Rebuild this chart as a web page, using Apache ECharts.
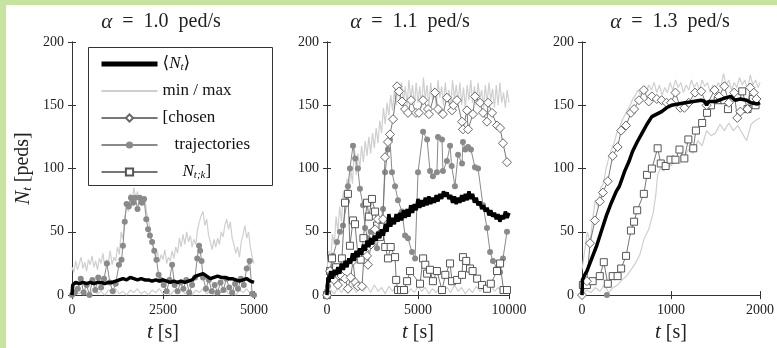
<!DOCTYPE html>
<html><head><meta charset="utf-8">
<script src="https://cdn.jsdelivr.net/npm/echarts@6/dist/echarts.min.js"></script>
<style>html,body{margin:0;padding:0;background:#fff}#c{width:777px;height:348px}</style>
</head><body><div id="c"></div><script>
// ---------- DATA ----------
const titles = ['1.0', '1.1', '1.3'];
const xMax = [5000, 10000, 2000];
const xStep = [2500, 5000, 1000];

// Panel 1 (alpha = 1.0)
const p1Mean = [[0,0],[20,8],[100,10],[200,9],[300,10],[400,9],[500,10],[600,9],[700,10],[800,10],[900,9],[1000,10],[1100,10],[1200,11],[1300,12],[1400,13],[1500,12],[1600,14],[1700,13],[1800,12],[1900,13],[2000,12],[2100,12],[2200,11],[2300,12],[2400,11],[2500,12],[2600,11],[2700,10],[2800,11],[2900,10],[3000,11],[3100,10],[3200,11],[3300,12],[3400,15],[3500,16],[3600,17],[3700,15],[3800,13],[3900,14],[4000,15],[4100,14],[4200,14],[4300,13],[4400,13],[4500,12],[4600,11],[4700,12],[4800,13],[4900,11],[5000,10]];
const p1Max = [[0,22],[50,18],[100,27],[150,20],[200,25],[250,30],[300,21],[350,26],[400,19],[450,28],[500,24],[550,31],[600,22],[650,27],[700,20],[750,29],[800,25],[850,33],[900,23],[950,28],[1000,26],[1050,35],[1100,24],[1150,30],[1200,27],[1250,38],[1300,32],[1350,50],[1400,44],[1450,62],[1500,70],[1550,66],[1600,80],[1650,74],[1700,85],[1750,76],[1800,82],[1850,73],[1900,79],[1950,75],[2000,78],[2050,65],[2100,60],[2150,50],[2200,42],[2250,35],[2300,30],[2350,34],[2400,26],[2450,32],[2500,28],[2550,36],[2600,25],[2650,30],[2700,27],[2750,35],[2800,29],[2850,38],[2900,33],[2950,45],[3000,38],[3050,48],[3100,40],[3150,50],[3200,42],[3250,47],[3300,38],[3350,44],[3400,40],[3450,52],[3500,58],[3550,63],[3600,66],[3650,55],[3700,60],[3750,48],[3800,42],[3850,36],[3900,44],[3950,38],[4000,45],[4050,40],[4100,50],[4150,46],[4200,55],[4250,60],[4300,52],[4350,58],[4400,45],[4450,40],[4500,33],[4550,38],[4600,30],[4650,42],[4700,48],[4750,55],[4800,45],[4850,50],[4900,38],[4950,30],[5000,25]];
const p1Min = [[0,0],[100,3],[200,1],[300,4],[400,0],[500,2],[600,5],[700,1],[800,3],[900,0],[1000,4],[1100,2],[1200,5],[1300,1],[1400,3],[1500,0],[1600,4],[1700,2],[1800,5],[1900,1],[2000,3],[2100,0],[2200,4],[2300,2],[2400,5],[2500,1],[2600,3],[2700,0],[2800,4],[2900,2],[3000,5],[3100,1],[3200,3],[3300,0],[3400,4],[3500,2],[3600,5],[3700,1],[3800,3],[3900,0],[4000,4],[4100,2],[4200,5],[4300,1],[4400,3],[4500,0],[4600,4],[4700,2],[4800,5],[4900,1],[5000,3]];
const p1Dot = [[0,0],[80,2],[160,5],[240,13],[320,2],[400,8],[480,0],[560,12],[640,4],[720,14],[800,6],[880,13],[960,25],[1040,10],[1120,3],[1200,9],[1290,24],[1360,28],[1400,39],[1450,58],[1500,72],[1560,70],[1620,77],[1680,73],[1740,77],[1800,68],[1860,77],[1920,73],[1980,76],[2040,60],[2090,52],[2140,47],[2200,42],[2260,35],[2320,28],[2380,16],[2440,12],[2520,8],[2600,3],[2680,12],[2750,24],[2820,8],[2900,3],[2980,10],[3060,5],[3140,12],[3220,2],[3300,8],[3380,14],[3440,29],[3490,39],[3520,35],[3560,27],[3600,14],[3680,5],[3760,12],[3840,3],[3920,8],[4000,2],[4080,10],[4160,4],[4240,13],[4320,6],[4400,2],[4480,9],[4560,5],[4640,13],[4720,8],[4800,21],[4880,27],[4950,1],[5000,0]];

// Panel 2 (alpha = 1.1)
const p2Mean = [[0,0],[50,14],[100,10],[200,19],[300,13],[400,20],[500,16],[600,22],[700,17],[800,25],[900,20],[1000,27],[1100,22],[1200,29],[1300,25],[1400,33],[1500,27],[1600,35],[1700,30],[1800,37],[1900,32],[2000,40],[2100,35],[2200,43],[2300,38],[2400,45],[2500,40],[2600,47],[2700,43],[2800,50],[2900,45],[3000,52],[3100,47],[3200,56],[3300,50],[3400,64],[3500,54],[3600,61],[3700,56],[3800,64],[3900,58],[4000,65],[4100,59],[4200,67],[4300,61],[4400,68],[4500,62],[4600,71],[4700,65],[4800,72],[4900,67],[5000,76],[5100,69],[5200,75],[5300,70],[5400,77],[5500,71],[5600,78],[5700,72],[5800,77],[5900,73],[6000,79],[6100,74],[6200,80],[6300,76],[6400,82],[6500,78],[6600,81],[6700,76],[6800,79],[6900,73],[7000,78],[7100,72],[7200,77],[7300,73],[7400,79],[7500,74],[7600,80],[7700,75],[7800,82],[7900,76],[8000,80],[8100,73],[8200,77],[8300,71],[8400,74],[8500,68],[8600,71],[8700,66],[8800,69],[8900,63],[9000,67],[9100,62],[9200,65],[9300,60],[9400,64],[9500,58],[9600,63],[9700,60],[9800,66],[9900,61],[10000,65]];
const p2Max = [[0,20],[100,35],[200,28],[300,48],[400,40],[500,62],[600,50],[700,70],[800,58],[900,82],[1000,70],[1100,92],[1200,80],[1300,100],[1400,88],[1500,118],[1600,95],[1700,112],[1800,100],[1900,118],[2000,105],[2100,122],[2200,110],[2300,125],[2400,112],[2500,128],[2600,116],[2700,132],[2800,120],[2900,138],[3000,128],[3100,148],[3200,135],[3300,152],[3400,142],[3500,158],[3600,146],[3700,162],[3800,150],[3900,166],[4000,154],[4100,168],[4200,152],[4300,165],[4400,150],[4500,170],[4600,155],[4700,166],[4800,150],[4900,168],[5000,152],[5100,165],[5200,148],[5300,172],[5400,155],[5500,166],[5600,150],[5700,168],[5800,154],[5900,164],[6000,148],[6100,170],[6200,156],[6300,165],[6400,150],[6500,168],[6600,153],[6700,162],[6800,148],[6900,170],[7000,155],[7100,166],[7200,152],[7300,168],[7400,150],[7500,164],[7600,148],[7700,166],[7800,154],[7900,170],[8000,152],[8100,165],[8200,150],[8300,168],[8400,155],[8500,162],[8600,148],[8700,166],[8800,152],[8900,168],[9000,154],[9100,163],[9200,148],[9300,166],[9400,150],[9500,168],[9600,152],[9700,160],[9800,148],[9900,162],[10000,152]];
const p2Min = [[0,0],[200,4],[400,1],[600,6],[800,2],[1000,7],[1200,3],[1400,8],[1600,2],[1800,6],[2000,3],[2200,7],[2400,2],[2600,8],[2800,3],[3000,6],[3200,1],[3400,7],[3600,3],[3800,8],[4000,2],[4200,6],[4400,1],[4600,5],[4800,2],[5000,7],[5200,3],[5400,6],[5600,1],[5800,5],[6000,2],[6200,7],[6400,3],[6600,6],[6800,2],[7000,8],[7200,3],[7400,6],[7600,1],[7800,5],[8000,2],[8200,7],[8400,3],[8600,6],[8800,2],[9000,8],[9200,3],[9400,6],[9600,2],[9800,7],[10000,3]];
const p2Dia = [[0,0],[165,19],[380,12],[600,8],[800,15],[990,13],[1150,5],[1300,14],[1430,27],[1560,10],[1700,7],[1920,7],[2050,35],[2200,31],[2250,24],[2420,40],[2640,52],[2800,60],[3080,60],[3190,109],[3350,121],[3460,127],[3630,139],[3850,165],[3960,161],[4120,153],[4290,147],[4450,144],[4620,154],[4890,144],[5050,144],[5280,154],[5550,147],[5600,143],[5930,160],[6100,147],[6370,143],[6590,156],[6870,146],[6950,150],[7140,154],[7420,137],[7470,131],[7690,146],[7750,131],[8020,143],[8130,157],[8410,152],[8570,144],[8790,137],[8850,152],[9070,144],[9340,134],[9510,132],[9670,120],[9890,105]];
const p2Dot = [[0,3],[55,7],[200,18],[330,31],[550,42],[710,50],[880,55],[1100,74],[1150,86],[1260,100],[1430,118],[1550,108],[1700,100],[1810,84],[1980,71],[2090,53],[2250,45],[2400,50],[2640,45],[2750,37],[2910,55],[3080,68],[3190,97],[3350,115],[3460,123],[3570,97],[3740,86],[3900,75],[4120,66],[4290,47],[4450,45],[4670,34],[4840,29],[5000,97],[5280,129],[5500,123],[5660,98],[5820,94],[6040,97],[6100,125],[6320,123],[6370,98],[6590,106],[6760,118],[6850,102],[7030,86],[7200,111],[7420,104],[7470,121],[7600,115],[7750,117],[7910,115],[8130,101],[8300,100],[8570,71],[8790,53],[8960,34],[9120,27],[9340,21],[9510,18],[9670,29],[9890,50]];
const p2Sq = [[0,0],[165,19],[275,29],[500,22],[660,15],[820,29],[990,73],[1150,80],[1260,39],[1430,59],[1540,56],[1700,31],[1850,28],[2000,45],[2200,73],[2300,62],[2470,76],[2640,66],[2750,55],[2910,46],[3050,54],[3200,38],[3350,29],[3500,38],[3740,30],[3800,12],[3900,4],[4070,4],[4230,4],[4400,11],[4560,19],[5110,9],[5280,29],[5400,24],[5500,17],[5660,20],[5820,11],[6040,19],[6320,4],[6500,16],[6760,25],[6870,11],[7150,12],[7420,16],[7470,30],[7650,27],[7860,21],[8000,19],[8250,13],[8520,8],[8790,5],[9000,9],[9340,19],[9510,25],[9700,4],[9890,4]];

// Panel 3 (alpha = 1.3)
const p3Mean = [[0,0],[5,12],[30,16],[55,19],[110,29],[165,39],[220,51],[275,63],[330,73],[385,82],[420,86],[480,98],[530,106],[565,113],[620,121],[675,128],[730,135],[785,141],[840,143],[895,145],[950,148],[1005,150],[1080,151],[1160,152],[1250,153],[1340,154],[1380,153],[1400,150],[1420,153],[1500,153],[1580,155],[1670,157],[1720,154],[1780,155],[1850,154],[1900,152],[1970,151],[2000,152]];
const p3Max = [[0,20],[30,35],[60,50],[90,42],[120,60],[150,75],[180,70],[210,85],[240,88],[270,100],[300,108],[330,115],[360,120],[390,128],[420,132],[450,138],[480,142],[510,146],[540,150],[570,155],[600,158],[630,162],[660,158],[690,165],[720,160],[750,166],[780,162],[810,168],[840,160],[870,166],[900,158],[930,164],[960,160],[990,168],[1020,162],[1050,170],[1080,164],[1110,168],[1140,160],[1170,166],[1200,162],[1230,170],[1260,164],[1290,168],[1320,162],[1350,170],[1380,165],[1410,168],[1440,160],[1470,166],[1500,162],[1530,168],[1560,164],[1590,175],[1620,166],[1650,170],[1680,162],[1710,168],[1740,164],[1770,172],[1800,166],[1830,170],[1860,162],[1890,174],[1920,166],[1950,170],[1980,164],[2000,168]];
const p3Min = [[0,0],[50,4],[100,2],[150,6],[200,3],[250,8],[300,2],[350,6],[400,8],[450,12],[500,15],[550,20],[600,25],[650,32],[700,45],[750,52],[800,65],[830,80],[850,95],[880,100],[920,98],[960,105],[1000,102],[1050,108],[1100,104],[1150,110],[1200,115],[1250,112],[1300,122],[1350,118],[1400,130],[1450,126],[1500,128],[1550,135],[1600,130],[1650,136],[1700,130],[1750,134],[1800,128],[1850,122],[1900,135],[1950,138],[2000,140]];
const p3Dia = [[0,0],[55,11],[90,41],[145,59],[200,74],[235,81],[290,90],[345,110],[400,117],[440,130],[495,134],[550,144],[585,147],[640,154],[695,162],[750,153],[785,157],[840,155],[895,154],[950,152],[1000,152],[1050,160],[1105,148],[1150,148],[1200,152],[1270,160],[1340,161],[1400,150],[1490,162],[1540,157],[1600,165],[1650,152],[1710,160],[1745,140],[1780,145],[1860,147],[1890,164],[1930,160],[1960,155]];
const p3Sq = [[10,8],[55,8],[120,11],[200,15],[245,26],[290,9],[345,15],[400,15],[440,21],[495,31],[550,51],[585,58],[620,67],[695,80],[730,95],[785,100],[850,116],[885,104],[940,102],[995,107],[1050,107],[1095,115],[1150,108],[1195,123],[1250,116],[1280,130],[1350,136],[1405,144],[1450,150],[1525,154],[1600,154],[1640,147],[1745,158],[1800,161],[1860,147],[1920,155],[1950,150]];
const p3Dot = [[280,0]];

// ---------- CHART ----------
const FONT = '"Liberation Serif","DejaVu Serif",serif';
const GREY_LIGHT = '#cfcfcf';
const LINE_C = '#777777';
const grids = [
  {left: 72, top: 42, width: 182, height: 255},
  {left: 327, top: 42, width: 182, height: 255},
  {left: 582, top: 42, width: 181, height: 255}
];
const titleX = [161, 410, 670];

const xAxes = [], yAxes = [], series = [];
const axLine = {show: true, lineStyle: {color: '#333', width: 1}};
const tick = {inside: true, length: 4, lineStyle: {color: '#333'}};
const lab = {fontFamily: FONT, fontSize: 14, color: '#222', margin: 8, formatter: v => String(v)};
for (let i = 0; i < 3; i++) {
  const base = {gridIndex: i, type: 'value', min: 0, max: xMax[i], interval: xStep[i], splitLine: {show: false}, axisLine: axLine};
  xAxes.push(Object.assign({}, base, {
    position: 'bottom', axisTick: tick, axisLabel: lab,
    name: '{i|t} [s]', nameLocation: 'middle', nameGap: 26,
    nameTextStyle: {fontFamily: FONT, fontSize: 20, color: '#222', rich: {i: {fontFamily: FONT, fontStyle: 'italic', fontSize: 21, color: '#222'}}}
  }));
  xAxes.push(Object.assign({}, base, {position: 'top', axisTick: tick, axisLabel: {show: false}}));
  const ybase = {gridIndex: i, type: 'value', min: 0, max: 200, interval: 50, splitLine: {show: false}, axisLine: axLine};
  const yl = Object.assign({}, ybase, {position: 'left', axisTick: tick, axisLabel: lab});
  if (i === 0) {
    yl.name = '{i|N}{s|t} [peds]';
    yl.nameLocation = 'middle';
    yl.nameGap = 38;
    yl.nameTextStyle = {fontFamily: FONT, fontSize: 20, color: '#222', lineHeight: 22,
      rich: {i: {fontFamily: FONT, fontStyle: 'italic', fontSize: 21, color: '#222', lineHeight: 22},
             s: {fontFamily: FONT, fontStyle: 'italic', fontSize: 13, color: '#222', lineHeight: 22, verticalAlign: 'bottom'}}};
  }
  yAxes.push(yl);
  yAxes.push(Object.assign({}, ybase, {position: 'right', axisTick: tick, axisLabel: {show: false}}));
}

const panels = [
  {mean: p1Mean, max: p1Max, min: p1Min, dia: [], dot: p1Dot, sq: []},
  {mean: p2Mean, max: p2Max, min: p2Min, dia: p2Dia, dot: p2Dot, sq: p2Sq},
  {mean: p3Mean, max: p3Max, min: p3Min, dia: p3Dia, dot: p3Dot, sq: p3Sq}
];
panels.forEach((p, i) => {
  const ax = {xAxisIndex: 2 * i, yAxisIndex: 2 * i};
  const mm = {type: 'line', name: 'minmax', symbol: 'none', lineStyle: {color: GREY_LIGHT, width: 1.2}, itemStyle: {color: GREY_LIGHT}, z: 1};
  series.push(Object.assign({}, ax, mm, {data: p.max}));
  series.push(Object.assign({}, ax, mm, {data: p.min}));
  series.push(Object.assign({}, ax, {type: 'line', name: 'traj', data: p.dot, symbol: 'circle', symbolSize: 6,
    lineStyle: {color: '#8a8a8a', width: 1}, itemStyle: {color: '#8a8a8a', borderWidth: 0}, z: 2}));
  series.push(Object.assign({}, ax, {type: 'line', name: 'Ntk', data: p.sq, symbol: 'rect', symbolSize: 7,
    lineStyle: {color: LINE_C, width: 1}, itemStyle: {color: '#fff', borderColor: '#555', borderWidth: 1}, z: 3}));
  series.push(Object.assign({}, ax, {type: 'line', name: 'chosen', data: p.dia, symbol: 'diamond', symbolSize: 9,
    lineStyle: {color: LINE_C, width: 1}, itemStyle: {color: '#fff', borderColor: '#666', borderWidth: 1}, z: 3}));
  series.push(Object.assign({}, ax, {type: 'line', name: 'mean', data: p.mean, symbol: 'none',
    lineStyle: {color: '#000', width: 3.5}, itemStyle: {color: '#000'}, z: 4}));
});

const legendLabels = {
  mean: '{n|⟨}{i|N}{s|t}{n|⟩}',
  minmax: '{n|min / max}',
  chosen: '{n|[chosen}',
  traj: '{p|trajectories}',
  Ntk: '{q|N}{s|t;k}{n|]}'
};

const graphics = [
  {type: 'rect', shape: {x: 0, y: 0, width: 777, height: 5}, style: {fill: '#c7e3a1'}, z: 100},
  {type: 'rect', shape: {x: 0, y: 0, width: 6, height: 348}, style: {fill: '#c7e3a1'}, z: 100},
  {type: 'rect', shape: {x: 88.5, y: 47.5, width: 184, height: 138}, style: {fill: '#fff', stroke: '#333', lineWidth: 1}, z: 10}
];
titles.forEach((t, i) => {
  graphics.push({type: 'text', x: titleX[i], y: 22, z: 10, style: {
    text: '{a|α}  =  ' + t + '  ped/s', align: 'center', verticalAlign: 'middle',
    font: '20px ' + FONT, fill: '#222',
    rich: {a: {fontFamily: FONT, fontStyle: 'italic', fontSize: 21, fill: '#222'}}
  }});
});

const richL = {
  i: {fontFamily: FONT, fontStyle: 'italic', fontSize: 17, color: '#111', lineHeight: 18},
  s: {fontFamily: FONT, fontStyle: 'italic', fontSize: 11, color: '#111', lineHeight: 18, verticalAlign: 'bottom'},
  n: {fontFamily: FONT, fontSize: 17, color: '#111', lineHeight: 18},
  p: {fontFamily: FONT, fontSize: 17, color: '#111', lineHeight: 18, padding: [0, 0, 0, 12]},
  q: {fontFamily: FONT, fontStyle: 'italic', fontSize: 17, color: '#111', lineHeight: 18, padding: [0, 0, 0, 20]}
};

const chart = echarts.init(document.getElementById('c'), null, {renderer: 'canvas'});
chart.setOption({
  animation: false,
  backgroundColor: '#fff',
  grid: grids,
  xAxis: xAxes,
  yAxis: yAxes,
  legend: {
    orient: 'vertical', left: 99, top: 55, padding: 0, itemWidth: 56, itemHeight: 9, itemGap: 9,
    selectedMode: false, z: 20,
    data: [
      {name: 'mean', itemStyle: {opacity: 0}, lineStyle: {width: 5}},
      {name: 'minmax', itemStyle: {opacity: 0}},
      'chosen', 'traj', 'Ntk'
    ],
    formatter: n => legendLabels[n],
    textStyle: {fontFamily: FONT, fontSize: 17, color: '#111', lineHeight: 18, rich: richL}
  },
  graphic: graphics,
  series: series
});
</script></body></html>
